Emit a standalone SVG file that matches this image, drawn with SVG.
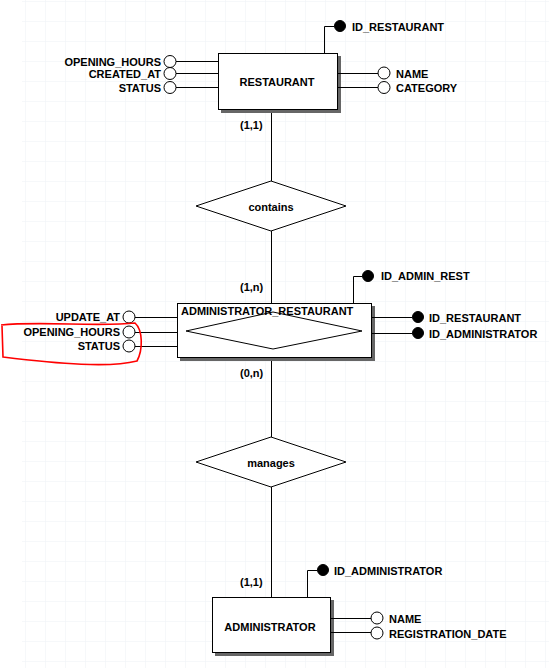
<svg xmlns="http://www.w3.org/2000/svg" width="554" height="668" viewBox="0 0 554 668">
<defs>
<pattern id="grid" x="5" y="1" width="20" height="20" patternUnits="userSpaceOnUse">
<path d="M0 0 H20 M0 0 V20" fill="none" stroke="#eef1f5" stroke-width="1"/>
</pattern>
</defs>
<style>
text{font-family:"Liberation Sans",Arial,sans-serif;font-weight:bold;font-size:11px;fill:#000}
.mid{text-anchor:middle}
.end{text-anchor:end}
.ln{fill:none;stroke:#000;stroke-width:1}
.box{fill:#fff;stroke:#000;stroke-width:1}
.shadow{fill:#666}
.open{fill:#fff;stroke:#000;stroke-width:1}
.key{fill:#000;stroke:#000;stroke-width:1}
</style>
<rect width="554" height="668" fill="#fff"/>
<rect x="22" y="0" width="527" height="668" fill="url(#grid)"/>

<g id="connectors">
<path class="ln" d="M271.5 110 V181 M271.5 231 V303 M271.5 358 V437 M271.5 487 V597"/>
<text x="240" y="129">(1,1)</text>
<text x="240" y="291">(1,n)</text>
<text x="240" y="377">(0,n)</text>
<text x="240" y="586">(1,1)</text>
</g>

<g id="restaurant">
<rect class="shadow" x="221" y="56" width="120" height="57"/>
<rect class="box" x="218.5" y="53.5" width="119" height="56"/>
<text class="mid" x="277" y="86">RESTAURANT</text>
<path class="ln" d="M324.5 53 V26.5 H334"/>
<circle class="key" cx="340" cy="26" r="5.5"/>
<text x="352" y="31">ID_RESTAURANT</text>
<path class="ln" d="M176 61.5 H218 M176 73.5 H218 M176 87.5 H218"/>
<circle class="open" cx="170" cy="61.5" r="6"/>
<circle class="open" cx="170" cy="73.5" r="6"/>
<circle class="open" cx="170" cy="87.5" r="6"/>
<text class="end" x="161" y="66">OPENING_HOURS</text>
<text class="end" x="161" y="78">CREATED_AT</text>
<text class="end" x="161" y="92">STATUS</text>
<path class="ln" d="M338 73.5 H378 M338 87.5 H378"/>
<circle class="open" cx="384" cy="73" r="6"/>
<circle class="open" cx="384" cy="87.5" r="6"/>
<text x="396" y="78">NAME</text>
<text x="396" y="92">CATEGORY</text>
</g>

<g id="contains">
<polygon class="box" points="196,206 271,181 346,206 271,231"/>
<text class="mid" x="271" y="211">contains</text>
</g>

<g id="administrator_restaurant">
<rect class="shadow" x="180" y="306" width="195" height="55"/>
<rect class="box" x="177.5" y="303.5" width="194" height="54"/>
<polygon class="ln" points="186,331 273,312 362,331 273,349"/>
<text x="181" y="315">ADMINISTRATOR_RESTAURANT</text>
<path class="ln" d="M353.5 303 V276.5 H362"/>
<circle class="key" cx="368" cy="276" r="5.5"/>
<text x="381" y="280">ID_ADMIN_REST</text>
<path class="ln" d="M135 317.5 H177 M135 332.5 H177 M135 346.5 H177"/>
<circle class="open" cx="129" cy="317" r="6"/>
<circle class="open" cx="129" cy="332" r="6"/>
<circle class="open" cx="129" cy="346" r="6"/>
<text class="end" x="120" y="321">UPDATE_AT</text>
<text class="end" x="120" y="336">OPENING_HOURS</text>
<text class="end" x="120" y="350">STATUS</text>
<path class="ln" d="M372 317.5 H412 M372 333.5 H412"/>
<circle class="key" cx="418" cy="317" r="5.5"/>
<circle class="key" cx="418" cy="333" r="5.5"/>
<text x="429" y="322">ID_RESTAURANT</text>
<text x="429" y="338">ID_ADMINISTRATOR</text>
</g>

<g id="manages">
<polygon class="box" points="196,462 271,437 346,462 271,487"/>
<text class="mid" x="271" y="467">manages</text>
</g>

<g id="administrator">
<rect class="shadow" x="215" y="600" width="119" height="56"/>
<rect class="box" x="212.5" y="597.5" width="118" height="55"/>
<text class="mid" x="270" y="631">ADMINISTRATOR</text>
<path class="ln" d="M307.5 597 V570.5 H317"/>
<circle class="key" cx="323" cy="570" r="5.5"/>
<text x="334" y="575">ID_ADMINISTRATOR</text>
<path class="ln" d="M331 618.5 H371 M331 632.5 H371"/>
<circle class="open" cx="377" cy="618" r="6"/>
<circle class="open" cx="377" cy="633" r="6"/>
<text x="389" y="623">NAME</text>
<text x="389" y="638">REGISTRATION_DATE</text>
</g>

<path d="M1 325 C40 321 100 327 135 323 C143 330 143 350 137 361 C110 368 60 364 3 357 L2 326" fill="none" stroke="#f00" stroke-width="1.6"/>
</svg>
